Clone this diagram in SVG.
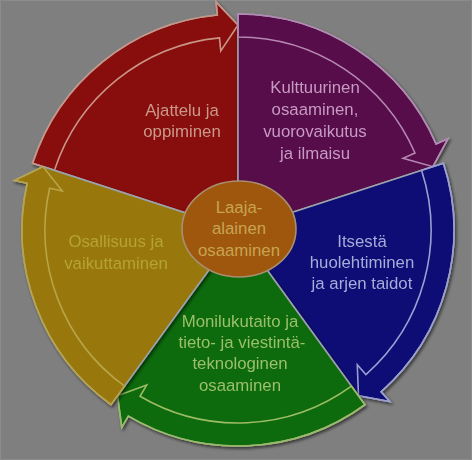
<svg xmlns="http://www.w3.org/2000/svg" width="472" height="460" viewBox="0 0 472 460">
  <defs>
    <filter id="sh" x="-10%" y="-10%" width="120%" height="120%">
      <feDropShadow dx="1.5" dy="2" stdDeviation="1.5" flood-color="#000" flood-opacity="0.55"/>
    </filter>
  </defs>
  <style>
    .wedge { stroke: #9aa2ac; stroke-width: 1.6; stroke-linejoin: miter; }
    .arrow { fill: none; stroke-width: 1.6; stroke-linejoin: miter; }
    text { font-family: "Liberation Sans", Arial, sans-serif; font-size: 16.8px; text-anchor: middle; dominant-baseline: central; }
  </style>
  <rect x="0" y="0" width="472" height="460" fill="#7f7f7f"/>
  <rect x="0.5" y="0.5" width="471" height="459" fill="none" stroke="#8c8c8c" stroke-width="1"/>

  <g id="red" filter="url(#sh)">
    <path class="wedge" fill="#880b0b" d="M238 230 L32.57 163.25 A216 216 0 0 1 217.30 14.99 L216.05 2.05 L238 25 Z"/>
    <path class="arrow" stroke="#c89486" d="M54.45 170.36 A193 193 0 0 1 219.50 37.89 L220.75 50.83 L238 25 L216.05 2.05 L217.30 14.99 A216 216 0 0 0 32.57 163.25 Z"/>
    <text fill="#c99a8a"><tspan x="182" y="110">Ajattelu ja</tspan><tspan x="182" y="131">oppiminen</tspan></text>
  </g>

  <g id="purple" filter="url(#sh)">
    <path class="wedge" fill="#560b48" d="M238 230 L238 14 A216 216 0 0 1 436.08 143.87 L448.01 138.69 L432.97 166.65 Z"/>
    <path class="arrow" stroke="#b488b2" d="M238 37 A193 193 0 0 1 414.99 153.04 L403.07 158.22 L432.97 166.65 L448.01 138.69 L436.08 143.87 A216 216 0 0 0 238 14 Z"/>
    <text fill="#c79ac4"><tspan x="315" y="87">Kulttuurinen</tspan><tspan x="315" y="109">osaaminen,</tspan><tspan x="315" y="131">vuorovaikutus</tspan><tspan x="315" y="153">ja ilmaisu</tspan></text>
  </g>

  <g id="blue" filter="url(#sh)">
    <path class="wedge" fill="#0b0b74" d="M238 230 L443.43 163.25 A216 216 0 0 1 381.13 391.78 L389.74 401.51 L358.50 395.85 Z"/>
    <path class="arrow" stroke="#9a9ed0" d="M421.55 170.36 A193 193 0 0 1 365.89 374.55 L357.27 364.81 L358.50 395.85 L389.74 401.51 L381.13 391.78 A216 216 0 0 0 443.43 163.25 Z"/>
    <text fill="#a8acd8"><tspan x="362" y="241">Itsestä</tspan><tspan x="362" y="262">huolehtiminen</tspan><tspan x="362" y="283">ja arjen taidot</tspan></text>
  </g>

  <g id="green" filter="url(#sh)">
    <path class="wedge" fill="#0d6a0d" d="M238 230 L364.96 404.75 A216 216 0 0 1 128.37 416.11 L121.77 427.31 L117.50 395.85 Z"/>
    <path class="arrow" stroke="#9cbc64" d="M351.44 386.14 A193 193 0 0 1 140.04 396.29 L146.64 385.09 L117.50 395.85 L121.77 427.31 L128.37 416.11 A216 216 0 0 0 364.96 404.75 Z"/>
    <text fill="#9cbf6a"><tspan x="240" y="321">Monilukutaito ja</tspan><tspan x="242" y="342">tieto- ja viestintä-</tspan><tspan x="240" y="363">teknologinen</tspan><tspan x="240" y="385">osaaminen</tspan></text>
  </g>

  <g id="yellow" filter="url(#sh)">
    <path class="wedge" fill="#987808" d="M238 230 L111.04 404.75 A216 216 0 0 1 27.12 183.25 L14.43 180.44 L43.03 166.65 Z"/>
    <path class="arrow" stroke="#b8a448" d="M124.56 386.14 A193 193 0 0 1 49.57 188.23 L62.27 191.04 L43.03 166.65 L14.43 180.44 L27.12 183.25 A216 216 0 0 0 111.04 404.75 Z"/>
    <text fill="#b5a238"><tspan x="116" y="241">Osallisuus ja</tspan><tspan x="116" y="263">vaikuttaminen</tspan></text>
  </g>

  <g id="connectors"/>

  <g id="center">
    <ellipse cx="239" cy="229" rx="57" ry="48" fill="#9e570c" stroke="#a89070" stroke-width="1.6"/>
    <text fill="#c8a452"><tspan x="239" y="207">Laaja-</tspan><tspan x="239" y="228">alainen</tspan><tspan x="239" y="250">osaaminen</tspan></text>
  </g>
</svg>
